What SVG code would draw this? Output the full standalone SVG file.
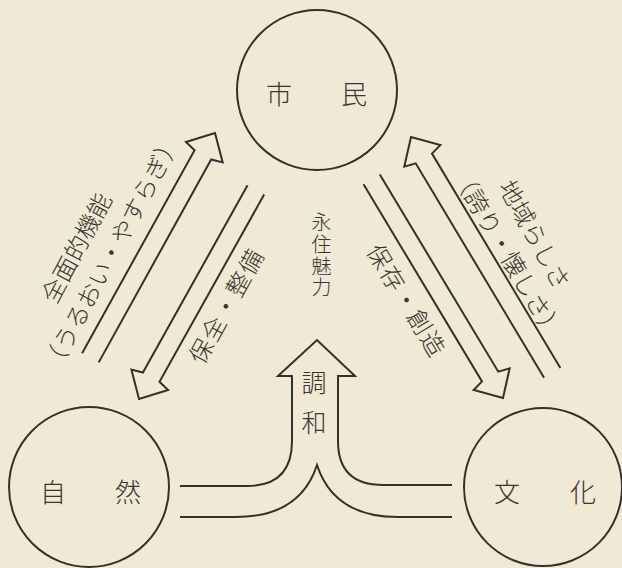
<svg xmlns="http://www.w3.org/2000/svg" width="622" height="568" viewBox="0 0 622 568">
<style>
.bg{fill:#efe9d5}
.ln{fill:none;stroke:#35302c;stroke-width:2;stroke-linejoin:miter}
.node{fill:none;stroke:#35302c;stroke-width:2}
.t{font-family:"Noto Sans CJK JP","Noto Sans CJK SC",sans-serif;fill:#3a3531;font-weight:300}
.nt{font-size:26px;text-anchor:middle;dominant-baseline:central}
.rt{font-size:24px;text-anchor:middle;dominant-baseline:central}
.vt{writing-mode:vertical-rl;text-anchor:middle}
</style>
<rect class="bg" x="0" y="0" width="622" height="568"/>
<g id="node-shimin">
<circle class="node" cx="317" cy="90" r="80"/>
<text class="t nt" x="279" y="92">市</text>
<text class="t nt" x="354" y="92">民</text>
</g>
<g id="node-shizen">
<circle class="node" cx="89" cy="487" r="80"/>
<text class="t nt" x="53" y="490">自</text>
<text class="t nt" x="128" y="490">然</text>
</g>
<g id="node-bunka">
<circle class="node" cx="543" cy="487" r="79"/>
<text class="t nt" x="507" y="490">文</text>
<text class="t nt" x="583" y="490">化</text>
</g>
<g id="connectors">
<path class="ln" transform="translate(215,133) rotate(-61)" d="M -257 -9.5 L -25 -9.5 L -22 -21 L 0 0 L -22 21 L -25 9.5 L -257 9.5"/>
<path class="ln" transform="translate(139,399) rotate(119.2)" d="M -239.5 -9.5 L -25 -9.5 L -22 -21 L 0 0 L -22 21 L -25 9.5 L -239.5 9.5"/>
<path class="ln" transform="translate(411,137) rotate(-120.9)" d="M -275 -9.5 L -25 -9.5 L -22 -21 L 0 0 L -22 21 L -25 9.5 L -275 9.5"/>
<path class="ln" transform="translate(503,398) rotate(59)" d="M -255 -9.5 L -25 -9.5 L -22 -21 L 0 0 L -22 21 L -25 9.5 L -255 9.5"/>
<path class="ln" d="M 180 486 L 247 486 Q 292 486 292 441 L 292 376 L 278 376 L 317 340 L 355 376 L 338 376 L 338 441 Q 338 485 383 485 L 452 485"/>
<path class="ln" d="M 180 517 L 236 517 Q 300 517 317 465 Q 334 517 398 517 L 452 517"/>
</g>
<g id="labels">
<text class="t rt" transform="translate(75,247) rotate(-62)">全面的機能</text>
<text class="t rt" transform="translate(110,252) rotate(-62)">（うるおい・やすらぎ）</text>
<text class="t rt" transform="translate(225,305) rotate(-61)" letter-spacing="1.5">保全・整備</text>
<text class="t rt" transform="translate(536,234) rotate(61)">地域らしさ</text>
<text class="t rt" transform="translate(509,253) rotate(59.5)">（誇り・懐しさ）</text>
<text class="t rt" transform="translate(408,300) rotate(58.6)" letter-spacing="1.5">保存・創造</text>
<text class="t vt" font-size="20" letter-spacing="1.7" x="321.5" y="256">永住魅力</text>
<text class="t vt" font-size="25" letter-spacing="15" x="314" y="410">調和</text>
</g>
</svg>
